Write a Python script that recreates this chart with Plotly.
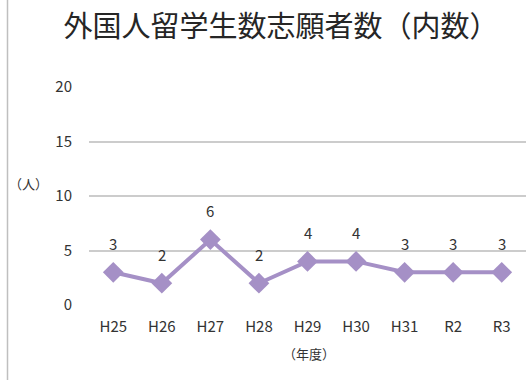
import plotly.graph_objects as go

# 年度ごとの外国人留学生志願者数（内数）
years = ["H25", "H26", "H27", "H28", "H29", "H30", "H31", "R2", "R3"]
applicants = [3, 2, 6, 2, 4, 4, 3, 3, 3]
y_ticks = [0, 5, 10, 15, 20]

W, H = 530, 380
ML, MR, MT, MB = 89, 4, 87, 75
PW, PH = W - ML - MR, H - MT - MB

purple = "#a590c6"
text_col = "#333333"
font_family = "Noto Sans CJK JP"


def px_x(x):
    return (x - ML) / PW


def px_y(y):
    return (H - MB - y) / PH


fig = go.Figure()
fig.add_trace(go.Scatter(
    x=years, y=applicants,
    mode="lines+markers",
    line=dict(color=purple, width=4),
    marker=dict(symbol="diamond", size=16, color=purple),
    hoverinfo="skip",
    showlegend=False,
))

# 値ラベル（各点の上）
for yr, v in zip(years, applicants):
    fig.add_annotation(x=yr, y=v, text=str(v), showarrow=False,
                       yshift=29, font=dict(size=15, color=text_col, family=font_family))

# 軸の単位
fig.add_annotation(xref="paper", yref="paper", x=px_x(28), y=px_y(183),
                   xanchor="center", yanchor="middle",
                   text="（人）", showarrow=False,
                   font=dict(size=13, color=text_col, family=font_family))
fig.add_annotation(xref="paper", yref="paper", x=px_x(309), y=px_y(353),
                   xanchor="center", yanchor="middle",
                   text="（年度）", showarrow=False,
                   font=dict(size=13, color=text_col, family=font_family))

# 左端の枠線
fig.add_shape(type="line", xref="paper", yref="paper",
              x0=px_x(7.5), x1=px_x(7.5), y0=px_y(0), y1=px_y(H),
              line=dict(color="#bfbfbf", width=1.5))

fig.update_layout(
    width=W, height=H,
    margin=dict(l=ML, r=MR, t=MT, b=MB),
    paper_bgcolor="white", plot_bgcolor="white",
    font=dict(family=font_family, color=text_col, size=15),
    title=dict(text="外国人留学生数志願者数（内数）", x=281 / W, xanchor="center",
               y=1 - 27 / H, yanchor="middle",
               font=dict(size=29, color="#262626", family=font_family)),
    xaxis=dict(type="category", showgrid=False, showline=False, ticks="",
               tickfont=dict(size=15, color=text_col), ticklabelstandoff=11,
               range=[-0.5, len(years) - 0.5], fixedrange=True),
    yaxis=dict(range=[0, 20], tickvals=y_ticks, showgrid=True,
               gridcolor="#cccccc", gridwidth=1.5, zeroline=False, showline=False,
               ticks="", tickfont=dict(size=15, color=text_col),
               ticklabelstandoff=16, fixedrange=True),
)

fig.write_html("out.html")
